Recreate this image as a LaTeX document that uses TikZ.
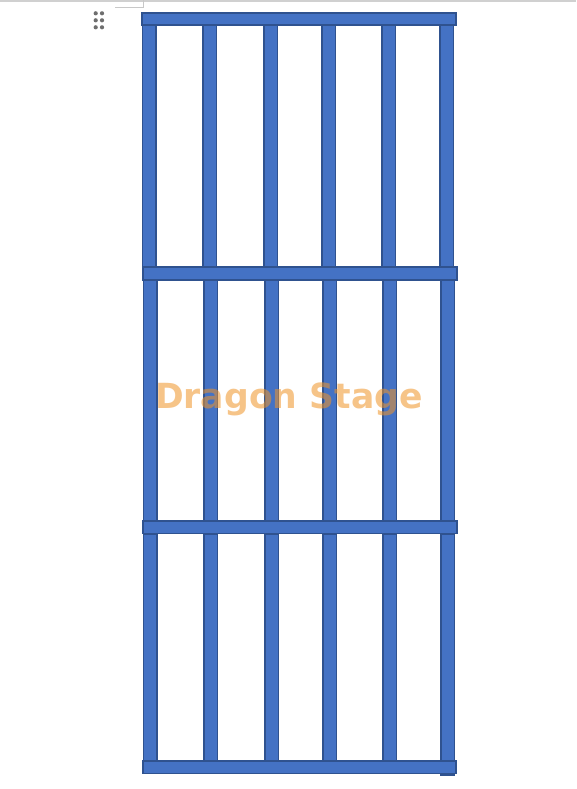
\documentclass[tikz,border=0pt]{standalone}
\usepackage{fontspec}
\newfontfamily\wmfont{DejaVu Sans Bold}
\definecolor{barfill}{RGB}{68,114,196}
\definecolor{bardraw}{RGB}{47,82,143}
\definecolor{wmcol}{RGB}{240,148,40}
\definecolor{uigray}{RGB}{200,200,200}
\definecolor{dotgray}{RGB}{110,110,110}
\tikzset{
  bar/.style={fill=barfill, draw=bardraw, line width=1.5pt},
  wm/.style={text=wmcol, text opacity=0.55, font=\wmfont\fontsize{34.6}{40}\selectfont, inner sep=0pt, anchor=base},
  uiline/.style={draw=uigray, line width=0.8pt},
  dot/.style={fill=dotgray}
}
\newcommand{\barbox}[4]{\draw[bar] (#1+0.75,#2+0.75) rectangle (#3-0.75,#4-0.75);}
\begin{document}
\begin{tikzpicture}[x=1pt,y=-1pt]
\useasboundingbox (0,0) rectangle (576,789);
\fill[white] (0,0) rectangle (576,789);
% editor chrome
\fill[uigray!85] (0,0) rectangle (576,2);
\draw[uiline] (115,7) -- (143,7) -- (143,0);
\foreach \dx in {95.7,102}{\foreach \dy in {13.3,20.3,27.3}{\fill[dot] (\dx,\dy) circle (2.1);}}
% posts, top section
\foreach \px in {141.7,202,263,321,381,439}{\barbox{\px}{24}{\px+15}{267}}
% posts, middle section
\foreach \px in {142.7,203,264,322,382,440}{\barbox{\px}{279}{\px+15}{522}}
% posts, bottom section
\foreach \px in {142.7,203,264,322,382}{\barbox{\px}{533}{\px+15}{762}}
\barbox{440}{533}{455}{775.7}
% rails
\barbox{141}{12.3}{456.7}{26}
\barbox{142}{266}{457.5}{280.7}
\barbox{142}{520}{457.5}{534.3}
\barbox{142}{760}{456.7}{774.3}
% watermark
\node[wm] (wm) at (288.9,408.5) {Dragon Stage};
\end{tikzpicture}
\end{document}
